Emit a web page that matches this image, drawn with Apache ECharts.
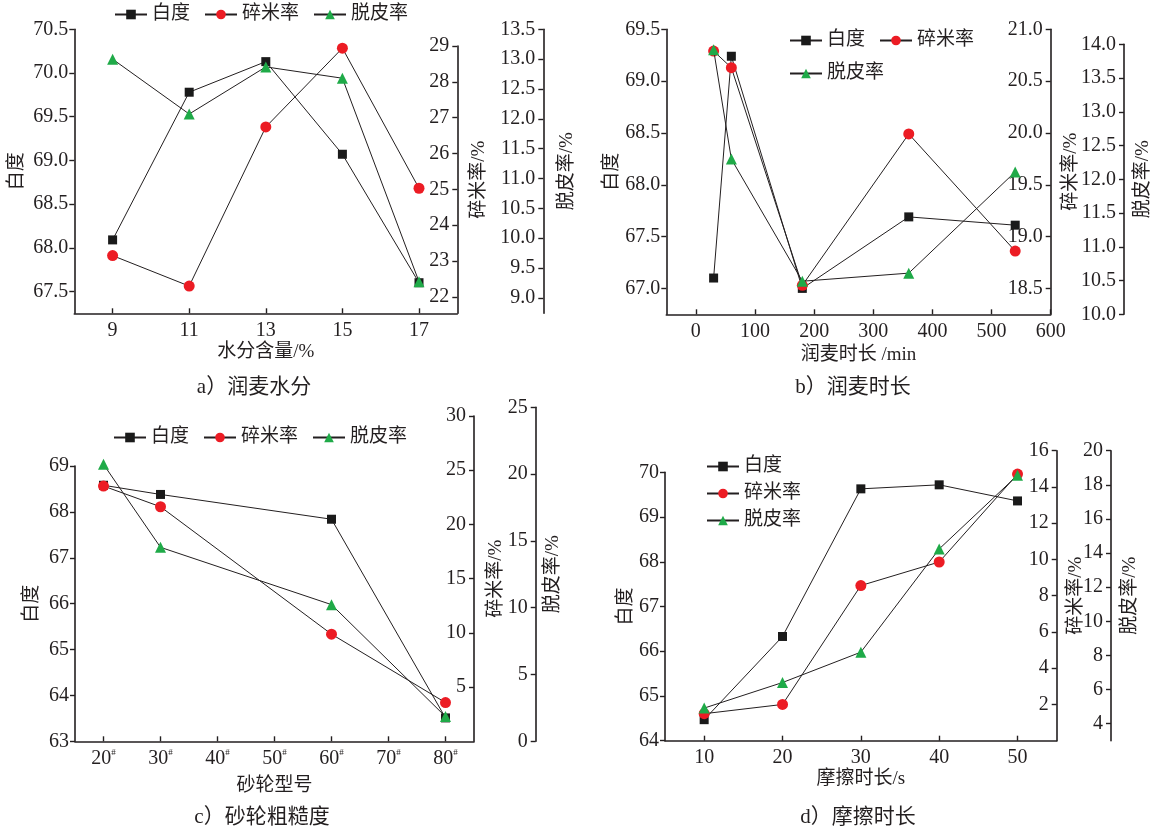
<!DOCTYPE html>
<html>
<head>
<meta charset="utf-8">
<script src="https://cdn.jsdelivr.net/npm/echarts@6/dist/echarts.min.js"></script>
<style>
html,body{margin:0;padding:0;background:#fff;}
#chart{width:1164px;height:831px;}
</style>
</head>
<body>
<div id="chart"></div>
<script>
// ---------- data ----------
const seriesNames = ['白度', '碎米率', '脱皮率'];

// a) 润麦水分
const aX = [9, 11, 13, 15, 17];
const aWhite = [68.09, 69.78, 70.13, 69.07, 67.60];
const aBroken = [23.15, 22.30, 26.74, 28.94, 25.03];
const aPeel = [13.00, 12.08, 12.87, 12.68, 9.27];
const aXTicks = [9, 11, 13, 15, 17];
const aY1Ticks = [67.5, 68.0, 68.5, 69.0, 69.5, 70.0, 70.5];
const aY2Ticks = [22, 23, 24, 25, 26, 27, 28, 29];
const aY3Ticks = [9.0, 9.5, 10.0, 10.5, 11.0, 11.5, 12.0, 12.5, 13.0, 13.5];

// b) 润麦时长
const bX = [30, 60, 180, 360, 540];
const bWhite = [67.10, 69.24, 67.00, 67.69, 67.61];
const bBroken = [20.79, 20.63, 18.53, 19.99, 18.86];
const bPeel = [13.92, 12.30, 10.49, 10.61, 12.11];
const bXTicks = [0, 100, 200, 300, 400, 500, 600];
const bY1Ticks = [67.0, 67.5, 68.0, 68.5, 69.0, 69.5];
const bY2Ticks = [18.5, 19.0, 19.5, 20.0, 20.5, 21.0];
const bY3Ticks = [10.0, 10.5, 11.0, 11.5, 12.0, 12.5, 13.0, 13.5, 14.0];

// c) 砂轮粗糙度
const cX = [20, 30, 60, 80];
const cWhite = [68.58, 68.38, 67.84, 63.51];
const cBroken = [23.54, 21.63, 9.88, 3.57];
const cPeel = [20.73, 14.52, 10.23, 1.85];
const cXTicks = [20, 30, 40, 50, 60, 70, 80];
const cY1Ticks = [63, 64, 65, 66, 67, 68, 69];
const cY2Ticks = [5, 10, 15, 20, 25, 30];
const cY3Ticks = [0, 5, 10, 15, 20, 25];

// d) 摩擦时长
const dX = [10, 20, 30, 40, 50];
const dWhite = [64.47, 66.33, 69.63, 69.72, 69.36];
const dBroken = [1.49, 2.00, 8.56, 9.86, 14.71];
const dPeel = [4.91, 6.41, 8.19, 14.24, 18.56];
const dXTicks = [10, 20, 30, 40, 50];
const dY1Ticks = [64, 65, 66, 67, 68, 69, 70];
const dY2Ticks = [2, 4, 6, 8, 10, 12, 14, 16];
const dY3Ticks = [4, 6, 8, 10, 12, 14, 16, 18, 20];

// ---------- style ----------
const FONT = '"Liberation Serif", "Noto Sans CJK SC", serif';
const TXT = '#231f20';
const AX = '#231f20';
const FS = 19;
const TFS = 20;

const grids = [], xAxes = [], yAxes = [], series = [], legends = [], graphics = [];

function addGrid(left, top, width, height) {
  grids.push({left: left, top: top, width: width, height: height, containLabel: false});
  return grids.length - 1;
}

function addX(gi, min, max, ticks, show, name, nameGap, fmt, rich) {
  xAxes.push({
    type: 'value', gridIndex: gi, min: min, max: max, show: show,
    name: name || '', nameLocation: 'middle', nameGap: nameGap || 30,
    nameTextStyle: {fontSize: FS, color: TXT, fontFamily: FONT},
    splitLine: {show: false},
    axisLine: {show: true, onZero: false, lineStyle: {color: AX, width: 1.6}},
    axisTick: {show: true, inside: true, length: 5, customValues: ticks, lineStyle: {color: AX, width: 1.4}},
    axisLabel: {show: true, customValues: ticks, margin: 7, fontSize: TFS, color: TXT, fontFamily: FONT,
      formatter: fmt || (v => String(v)), rich: rich}
  });
  return xAxes.length - 1;
}

function addY(gi, min, max, ticks, dec, side, offset, name, nameGap) {
  const right = side === 'right';
  yAxes.push({
    type: 'value', gridIndex: gi, min: min, max: max, position: side, offset: offset || 0,
    name: name, nameLocation: 'middle', nameGap: nameGap, nameRotate: 90,
    nameTextStyle: {fontSize: FS, color: TXT, fontFamily: FONT},
    splitLine: {show: false},
    axisLine: {show: true, onZero: false, lineStyle: {color: AX, width: 1.6}},
    axisTick: {show: true, inside: right, length: 5, customValues: ticks, lineStyle: {color: AX, width: 1.4}},
    axisLabel: {show: true, inside: right, customValues: ticks, margin: right ? 8 : 6,
      fontSize: TFS, color: TXT, fontFamily: FONT,
      formatter: v => v.toFixed(dec)}
  });
  return yAxes.length - 1;
}

const symStyle = [
  {symbol: 'rect', symbolSize: 9, color: '#1a1a1a'},
  {symbol: 'circle', symbolSize: 11, color: '#ec1c24'},
  {symbol: 'triangle', symbolSize: 11, color: '#1faa48'}
];

function addSeries(idx, xi, yi, xs, ys) {
  const s = symStyle[idx];
  series.push({
    type: 'line', name: seriesNames[idx], xAxisIndex: xi, yAxisIndex: yi,
    data: xs.map((x, i) => [x, ys[i]]),
    symbol: s.symbol, symbolSize: s.symbolSize, showSymbol: true,
    itemStyle: {color: s.color, borderWidth: 0},
    lineStyle: {color: '#231f20', width: 1},
    z: 2 + idx, animation: false
  });
}

function addLegend(cfg) {
  legends.push(Object.assign({
    data: seriesNames, itemWidth: 32, itemHeight: 12, itemGap: 14,
    textStyle: {fontSize: FS, color: TXT, fontFamily: FONT}, padding: 0,
    selectedMode: false
  }, cfg));
}

function caption(x, y, text) {
  graphics.push({type: 'text', x: x, y: y,
    style: {text: text, fontSize: 21, fontFamily: FONT, fill: TXT, align: 'center', verticalAlign: 'middle'}});
}

function panel(p) {
  const g1 = addGrid(p.left, p.g1[0], p.width, p.g1[1] - p.g1[0]);
  const g2 = addGrid(p.left, p.g2[0], p.width, p.g2[1] - p.g2[0]);
  const g3 = addGrid(p.left, p.g3[0], p.width, p.g3[1] - p.g3[0]);
  const x1 = addX(g1, p.xr[0], p.xr[1], p.xTicks, true, p.xName, p.xGap, p.xFmt, p.xRich);
  const x2 = addX(g2, p.xr[0], p.xr[1], p.xTicks, false);
  const x3 = addX(g3, p.xr[0], p.xr[1], p.xTicks, false);
  const y1 = addY(g1, p.y1[0], p.y1[1], p.y1Ticks, p.y1Dec, 'left', 0, '白度', p.y1Gap);
  const y2 = addY(g2, p.y2[0], p.y2[1], p.y2Ticks, p.y2Dec, 'right', 0, '碎米率/%', p.y2Gap);
  const y3 = addY(g3, p.y3[0], p.y3[1], p.y3Ticks, p.y3Dec, 'right', p.off3, '脱皮率/%', p.y3Gap);
  addSeries(0, x1, y1, p.xs, p.white);
  addSeries(1, x2, y2, p.xs, p.broken);
  addSeries(2, x3, y3, p.xs, p.peel);
}

// a
panel({left: 74.3, width: 383, g1: [29.3, 313.3], g2: [46, 313.3], g3: [29.3, 313.3],
  xr: [8, 18], xTicks: aXTicks, xName: '水分含量/%', xGap: 29,
  y1: [67.25, 70.5], y1Ticks: aY1Ticks, y1Dec: 1, y1Gap: 48,
  y2: [21.54, 29], y2Ticks: aY2Ticks, y2Dec: 0, y2Gap: 12,
  y3: [8.74, 13.5], y3Ticks: aY3Ticks, y3Dec: 1, y3Gap: 14, off3: 86,
  xs: aX, white: aWhite, broken: aBroken, peel: aPeel});
// b
panel({left: 666.3, width: 384.4, g1: [29.3, 314.3], g2: [29.3, 314.3], g3: [44.3, 314.3],
  xr: [-50, 600], xTicks: bXTicks, xName: '润麦时长 /min', xGap: 31,
  y1: [66.75, 69.5], y1Ticks: bY1Ticks, y1Dec: 1, y1Gap: 44,
  y2: [18.25, 21.0], y2Ticks: bY2Ticks, y2Dec: 1, y2Gap: 11,
  y3: [10, 14], y3Ticks: bY3Ticks, y3Dec: 1, y3Gap: 10, off3: 73.3,
  xs: bX, white: bWhite, broken: bBroken, peel: bPeel});
// c
panel({left: 75, width: 399, g1: [466, 741.3], g2: [416, 741.3], g3: [407.3, 741.3],
  xr: [15, 85], xTicks: cXTicks, xName: '砂轮型号', xGap: 35,
  xFmt: v => '{n|' + v + '}{s|#}',
  xRich: {n: {fontSize: TFS, color: TXT, fontFamily: FONT}, s: {fontSize: 9, color: TXT, fontFamily: FONT, verticalAlign: 'top'}},
  y1: [63, 69], y1Ticks: cY1Ticks, y1Dec: 0, y1Gap: 33,
  y2: [0, 30], y2Ticks: cY2Ticks, y2Dec: 0, y2Gap: 13,
  y3: [0, 25], y3Ticks: cY3Ticks, y3Dec: 0, y3Gap: 8, off3: 61.7,
  xs: cX, white: cWhite, broken: cBroken, peel: cPeel});
// d
panel({left: 665, width: 391.7, g1: [472.3, 740.7], g2: [450.7, 740.7], g3: [450.7, 740.7],
  xr: [5, 55], xTicks: dXTicks, xName: '摩擦时长/s', xGap: 29,
  y1: [64, 70], y1Ticks: dY1Ticks, y1Dec: 0, y1Gap: 26,
  y2: [0, 16], y2Ticks: dY2Ticks, y2Dec: 0, y2Gap: 10,
  y3: [3, 20], y3Ticks: dY3Ticks, y3Dec: 0, y3Gap: 10, off3: 54.3,
  xs: dX, white: dWhite, broken: dBroken, peel: dPeel});

addLegend({left: 114, top: 5, orient: 'horizontal'});
addLegend({left: 789, top: 31, orient: 'horizontal', width: 200});
addLegend({left: 113, top: 428, orient: 'horizontal'});
addLegend({left: 706, top: 457, orient: 'vertical', itemGap: 8});

caption(254, 387, 'a）润麦水分');
caption(853, 387, 'b）润麦时长');
caption(262, 817, 'c）砂轮粗糙度');
caption(858, 817, 'd）摩擦时长');

const chart = echarts.init(document.getElementById('chart'), null, {renderer: 'canvas'});
chart.setOption({
  animation: false,
  backgroundColor: '#ffffff',
  grid: grids, xAxis: xAxes, yAxis: yAxes, series: series, legend: legends,
  graphic: graphics
});
</script>
</body>
</html>
